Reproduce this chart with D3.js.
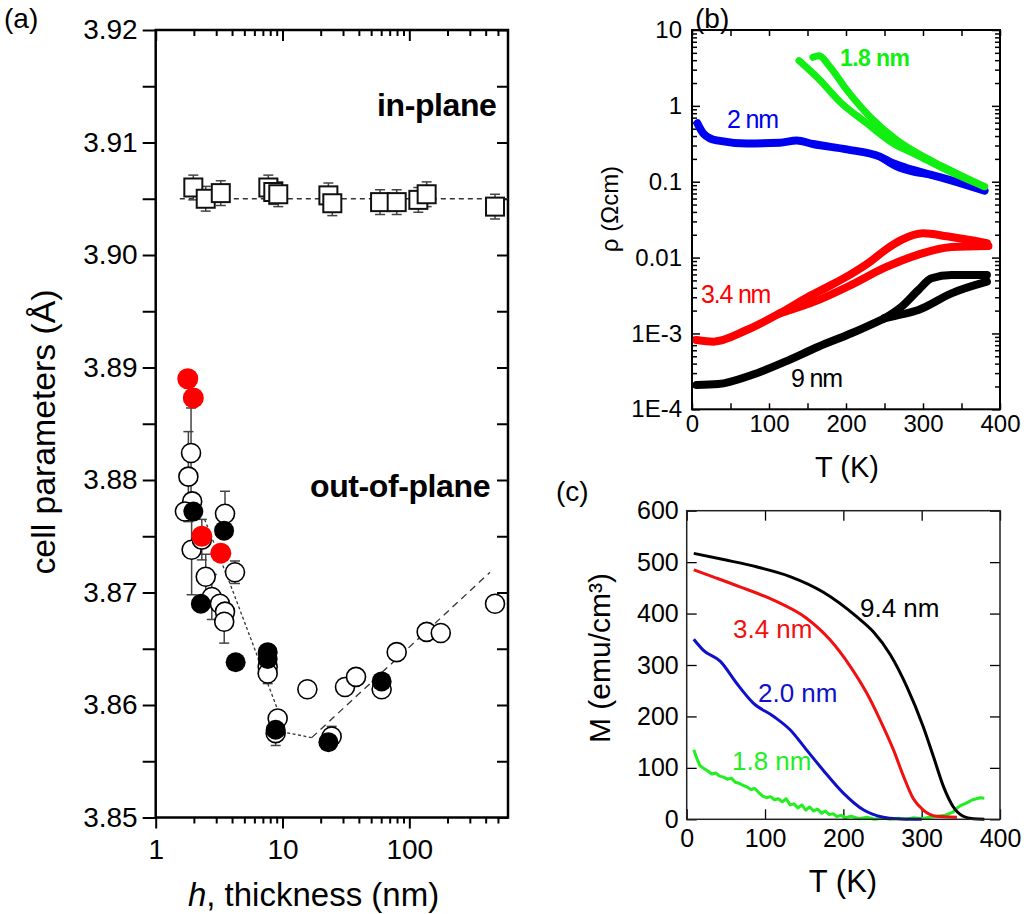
<!DOCTYPE html>
<html><head><meta charset="utf-8">
<script src="https://cdn.jsdelivr.net/npm/d3@7"></script>
<style>
body{margin:0;background:#fff}
svg{display:block}
text{font-family:"Liberation Sans",Arial,sans-serif}
</style>
</head><body>
<svg id="chart" width="1024" height="914"></svg>
<script>
// ---------------- Panel (a) data ----------------
const hMajorTicks = [1, 10, 100];
const hMinorTicks = [2,3,4,5,6,7,8,9,20,30,40,50,60,70,80,90,200,300,400,500];
const cMajorTicks = [3.85,3.86,3.87,3.88,3.89,3.90,3.91,3.92];
const cMinorTicks = [3.855,3.865,3.875,3.885,3.895,3.905,3.915];

const inPlaneH   = [1.98, 2.48, 3.26, 7.73, 8.46, 9.26, 23.0, 24.7, 58.8, 79.5, 117.8, 137, 474];
const inPlaneC   = [3.9060, 3.9050, 3.9055, 3.9060, 3.9056, 3.9054, 3.9053, 3.9046, 3.9047, 3.9047, 3.9049, 3.9054, 3.9043];
const inPlaneErr = [0.0011,0.0011,0.0011,0.0011,0.0011,0.0011,0.0011,0.0011,0.0011,0.0011,0.0011,0.0011,0.0011];
const inPlaneTrendH = [1.55, 600];
const inPlaneTrendC = [3.905, 3.905];

const openH   = [1.90, 1.81, 1.94, 1.70, 1.92, 2.31, 2.48, 2.77, 3.21, 3.52, 3.47, 3.52, 4.22, 7.64, 7.64, 9.16, 8.83, 15.7, 24.4, 31.1, 38.0, 60.5, 79.5, 137, 177, 474];
const openC   = [3.8824, 3.8803, 3.8781, 3.8772, 3.8738, 3.8747, 3.8714, 3.8696, 3.8690, 3.8683, 3.8674, 3.8770, 3.8718, 3.8634, 3.8628, 3.8588, 3.8575, 3.8614, 3.8572, 3.8616, 3.8625, 3.8614, 3.8647, 3.8665, 3.8664, 3.8690];
const openErr = [0.0040, 0.0040, 0, 0, 0.0040, 0.0018, 0.0020, 0.0020, 0, 0, 0.0019, 0.0020, 0.0010, 0, 0.0009, 0, 0.0011, 0, 0.0009, 0, 0, 0, 0, 0, 0, 0];
const blackH  = [1.98, 3.46, 2.27, 4.27, 7.64, 7.64, 8.83, 23.0, 60.5];
const blackC  = [3.8772, 3.8755, 3.8690, 3.8638, 3.8647, 3.8641, 3.8578, 3.8567, 3.8621];
const redH    = [1.79, 1.98, 2.31, 3.26];
const redC    = [3.8890, 3.8873, 3.8750, 3.8735];
const trendFineH   = [2.43, 3.85, 9.0, 10.1, 17.0];
const trendFineC   = [3.8765, 3.8708, 3.8598, 3.8576, 3.8571];
const trendCoarseH = [17.0, 433];
const trendCoarseC = [3.8571, 3.8718];

// ---------------- Panel (b) data ----------------
const rhoTicks  = [1e-4, 1e-3, 1e-2, 1e-1, 1, 10];
const rhoLabels = ["1E-4", "1E-3", "0.01", "0.1", "1", "10"];
const tTicksB   = [0, 50, 100, 150, 200, 250, 300, 350, 400];

const blue2T   = [7, 15, 32, 71, 114, 136, 157, 201, 244, 261, 287, 331, 380];
const blue2R   = [0.59, 0.43, 0.35, 0.32, 0.327, 0.35, 0.314, 0.267, 0.214, 0.175, 0.143, 0.108, 0.076];
const blue2bT  = [244, 265, 290, 310];
const blue2bR  = [0.214, 0.158, 0.132, 0.124];
const green18aT = [139, 166, 192, 227, 261, 292, 326, 380];
const green18aR = [3.94, 2.19, 1.135, 0.589, 0.321, 0.225, 0.150, 0.086];
const green18bT = [157, 165, 179, 201, 231, 266, 292, 326, 380];
const green18bR = [4.37, 4.57, 3.28, 1.62, 0.72, 0.355, 0.24, 0.158, 0.086];
const red34upT = [6, 28, 71, 114, 150, 180, 207, 230, 251, 272, 300, 331, 383];
const red34upR = [8.18e-4, 7.80e-4, 1.109e-3, 1.84e-3, 3.0e-3, 4.3e-3, 6.1e-3, 8.6e-3, 0.0126, 0.0171, 0.0209, 0.0191, 0.0155];
const red34loT = [114, 164, 207, 251, 294, 337, 385];
const red34loR = [1.84e-3, 2.75e-3, 4.37e-3, 7.41e-3, 0.01096, 0.0138, 0.0142];
const black9T  = [6, 34, 77.5, 121, 164, 207, 250];
const black9R  = [2.09e-4, 2.15e-4, 2.83e-4, 4.25e-4, 6.68e-4, 1.005e-3, 1.585e-3];
const black9upT = [250, 272, 294, 311, 337, 383];
const black9upR = [1.585e-3, 2.25e-3, 3.74e-3, 5.33e-3, 5.89e-3, 5.89e-3];
const black9loT = [250, 272, 294, 337, 383];
const black9loR = [1.585e-3, 1.78e-3, 2.04e-3, 3.38e-3, 4.81e-3];

// ---------------- Panel (c) data ----------------
const tTicksC = [0, 100, 200, 300, 400];
const mTicks  = [0, 100, 200, 300, 400, 500, 600];
const m94T = [9, 47, 89, 132, 174, 217, 238, 260, 281, 302, 315, 328, 340, 353, 366, 380];
const m94M = [517, 505, 491, 472, 442, 394, 365, 320, 258, 180, 122, 63, 25, 6, 1, 0];
const m34T = [9, 38, 68, 111, 153, 183, 209, 230, 247, 264, 277, 289, 302, 319, 345];
const m34M = [485, 469, 452, 426, 391, 349, 297, 245, 193, 135, 83, 41, 18, 6, 4];
const m20T = [9, 21, 43, 64, 85, 111, 132, 153, 174, 200, 226, 251, 268, 300];
const m20M = [350, 329, 307, 264, 226, 200, 174, 135, 96, 51, 18, 4, 1, 0];
const m18T = [9,13,17,22,27,32,37,42,47,52,57,62,67,72,77,82,87,92,97,102,107,112,117,122,127,132,137,142,147,152,157,162,167,172,177,182,187,192,197,202,210,220,230,240,250,260,270,280,290,300,310,320,330,340,345,350,355,360,365,370,375,380];
const m18M = [135,118,104,99,94,88,90,84,82,78,80,72,70,66,63,58,60,52,45,42,44,38,40,34,40,28,30,22,28,18,24,16,20,12,16,9,11,5,8,3,6,1,4,0,3,0,2,0,3,1,4,6,8,14,22,27,30,34,38,40,42,41];

// ---------------- drawing ----------------
const FONT = "'Liberation Sans', Arial, sans-serif";
const PFONT = "Lato, 'Open Sans', sans-serif";
const svg = d3.select("#chart");

function styleAxis(g, fs, sw) {
  g.attr("font-family", null).attr("font-size", null);
  g.select(".domain").remove();
  g.selectAll("line").attr("stroke", "#000").attr("stroke-width", sw);
  g.selectAll("text").attr("font-size", fs).attr("font-family", FONT).attr("fill", "#000");
  return g;
}
const z = (a, b) => d3.zip(a, b);

// ===== Panel (a) =====
const ax = d3.scaleLog().domain([1, 600]).range([155.7, 508]);
const ay = d3.scaleLinear().domain([3.85, 3.92]).range([817.5, 30]);
const gA = svg.append("g");
const [aL, aR] = ax.range(), [aB, aT] = ay.range();

styleAxis(gA.append("g").attr("transform", `translate(${aL},0)`)
  .call(d3.axisLeft(ay).tickValues(cMajorTicks).tickFormat(d3.format(".2f")).tickSize(13).tickSizeOuter(0).tickPadding(5)), 28, 2);
styleAxis(gA.append("g").attr("transform", `translate(${aL},0)`)
  .call(d3.axisLeft(ay).tickValues(cMinorTicks).tickFormat("").tickSize(13).tickSizeOuter(0)), 28, 2);
styleAxis(gA.append("g").attr("transform", `translate(${aR},0)`)
  .call(d3.axisLeft(ay).tickValues(cMajorTicks.concat(cMinorTicks)).tickFormat("").tickSize(11).tickSizeOuter(0)), 28, 2);
styleAxis(gA.append("g").attr("transform", `translate(0,${aB})`)
  .call(d3.axisBottom(ax).tickValues(hMajorTicks).tickFormat(d3.format("d")).tickSize(11).tickSizeOuter(0).tickPadding(11)), 28, 2);
styleAxis(gA.append("g").attr("transform", `translate(0,${aB})`)
  .call(d3.axisBottom(ax).tickValues(hMinorTicks).tickFormat("").tickSize(6).tickSizeOuter(0)), 28, 2);
styleAxis(gA.append("g").attr("transform", `translate(0,${aT})`)
  .call(d3.axisBottom(ax).tickValues(hMajorTicks).tickFormat("").tickSize(11).tickSizeOuter(0)), 28, 2);
styleAxis(gA.append("g").attr("transform", `translate(0,${aT})`)
  .call(d3.axisBottom(ax).tickValues(hMinorTicks).tickFormat("").tickSize(6).tickSizeOuter(0)), 28, 2);

gA.append("rect").attr("x", aL).attr("y", aT).attr("width", aR - aL).attr("height", aB - aT)
  .attr("fill", "none").attr("stroke", "#000").attr("stroke-width", 2.5);

const lineA = d3.line().x(d => ax(d[0])).y(d => ay(d[1]));
gA.append("path").attr("d", lineA(z(inPlaneTrendH, inPlaneTrendC)))
  .attr("fill", "none").attr("stroke", "#333").attr("stroke-width", 1.3).attr("stroke-dasharray", "5,4");
gA.append("path").attr("d", lineA(z(trendFineH, trendFineC)))
  .attr("fill", "none").attr("stroke", "#333").attr("stroke-width", 1.3).attr("stroke-dasharray", "3,2.5");
gA.append("path").attr("d", lineA(z(trendCoarseH, trendCoarseC)))
  .attr("fill", "none").attr("stroke", "#333").attr("stroke-width", 1.3).attr("stroke-dasharray", "7,5");

function errBars(g, H, C, E, cap) {
  const d = H.map((h, i) => ({h, c: C[i], e: E[i]})).filter(o => o.e > 0);
  const eg = g.append("g").attr("stroke", "#444").attr("stroke-width", 1.5);
  d.forEach(o => {
    const x = ax(o.h);
    eg.append("line").attr("x1", x).attr("x2", x).attr("y1", ay(o.c - o.e)).attr("y2", ay(o.c + o.e));
    eg.append("line").attr("x1", x - cap).attr("x2", x + cap).attr("y1", ay(o.c - o.e)).attr("y2", ay(o.c - o.e));
    eg.append("line").attr("x1", x - cap).attr("x2", x + cap).attr("y1", ay(o.c + o.e)).attr("y2", ay(o.c + o.e));
  });
}
errBars(gA, inPlaneH, inPlaneC, inPlaneErr, 5);
gA.append("g").selectAll("rect").data(z(inPlaneH, inPlaneC)).join("rect")
  .attr("x", d => ax(d[0]) - 9).attr("y", d => ay(d[1]) - 9).attr("width", 18).attr("height", 18)
  .attr("fill", "#fff").attr("stroke", "#111").attr("stroke-width", 2);

errBars(gA, openH, openC, openErr, 5);
gA.append("g").selectAll("circle").data(z(openH, openC)).join("circle")
  .attr("cx", d => ax(d[0])).attr("cy", d => ay(d[1])).attr("r", 9.5)
  .attr("fill", "#fff").attr("stroke", "#000").attr("stroke-width", 1.6);
gA.append("g").selectAll("circle").data(z(blackH, blackC)).join("circle")
  .attr("cx", d => ax(d[0])).attr("cy", d => ay(d[1])).attr("r", 10).attr("fill", "#000");
gA.append("g").selectAll("circle").data(z(redH, redC)).join("circle")
  .attr("cx", d => ax(d[0])).attr("cy", d => ay(d[1])).attr("r", 10.5).attr("fill", "#f00");

gA.append("text").attr("x", 377).attr("y", 116).attr("font-size", 32).attr("font-weight", "bold")
  .attr("letter-spacing", -0.4).text("in-plane");
gA.append("text").attr("x", 310).attr("y", 497).attr("font-size", 32).attr("font-weight", "bold")
  .attr("letter-spacing", -0.4).text("out-of-plane");
gA.append("text").attr("transform", "translate(55,432) rotate(-90)").attr("text-anchor", "middle")
  .attr("font-size", 33).attr("textLength", 285).attr("lengthAdjust", "spacingAndGlyphs").text("cell parameters (Å)");
const xl = gA.append("text").attr("x", 313.5).attr("y", 906).attr("text-anchor", "middle").attr("font-size", 33);
xl.append("tspan").attr("font-style", "italic").text("h");
xl.append("tspan").text(", thickness (nm)");
svg.append("text").attr("x", 4).attr("y", 28).attr("font-size", 28).attr("font-family", PFONT).text("(a)");

// ===== Panel (b) =====
const bx = d3.scaleLinear().domain([0, 400]).range([692, 1000]);
const by = d3.scaleLog().domain([1e-4, 10]).range([409.3, 30]);
const gB = svg.append("g");
const [bL, bR] = bx.range(), [bB, bT] = by.range();
const rhoMinor = [];
rhoTicks.slice(0, -1).forEach(t => { for (let k = 2; k <= 9; k++) rhoMinor.push(t * k); });

styleAxis(gB.append("g").attr("transform", `translate(${bL},0)`)
  .call(d3.axisLeft(by).tickValues(rhoTicks).tickFormat((d, i) => rhoLabels[i]).tickSizeInner(-8).tickSizeOuter(0).tickPadding(10)), 24, 1.5);
styleAxis(gB.append("g").attr("transform", `translate(${bL},0)`)
  .call(d3.axisLeft(by).tickValues(rhoMinor).tickFormat("").tickSizeInner(-5).tickSizeOuter(0)), 24, 1.5);
styleAxis(gB.append("g").attr("transform", `translate(${bR},0)`)
  .call(d3.axisLeft(by).tickValues(rhoTicks).tickFormat("").tickSize(8).tickSizeOuter(0)), 24, 1.5);
styleAxis(gB.append("g").attr("transform", `translate(${bR},0)`)
  .call(d3.axisLeft(by).tickValues(rhoMinor).tickFormat("").tickSize(5).tickSizeOuter(0)), 24, 1.5);
styleAxis(gB.append("g").attr("transform", `translate(0,${bB})`)
  .call(d3.axisBottom(bx).tickValues(tTicksB).tickFormat(d => d % 100 === 0 ? d : "").tickSizeInner(-6).tickSizeOuter(0).tickPadding(6)), 24, 1.5);
styleAxis(gB.append("g").attr("transform", `translate(0,${bT})`)
  .call(d3.axisBottom(bx).tickValues(tTicksB).tickFormat("").tickSize(6).tickSizeOuter(0)), 24, 1.5);
gB.append("rect").attr("x", bL).attr("y", bT).attr("width", bR - bL).attr("height", bB - bT)
  .attr("fill", "none").attr("stroke", "#000").attr("stroke-width", 2);

const lineB = d3.line().x(d => bx(d[0])).y(d => by(d[1])).curve(d3.curveMonotoneX);
function curveB(T, R, color, w) {
  gB.append("path").attr("d", lineB(z(T, R))).attr("fill", "none").attr("stroke", color)
    .attr("stroke-width", w).attr("stroke-linecap", "round").attr("stroke-linejoin", "round");
}
curveB(black9T, black9R, "#000", 8);
curveB(black9upT, black9upR, "#000", 8);
curveB(black9loT, black9loR, "#000", 8);
curveB(red34upT, red34upR, "#f00", 8);
curveB(red34loT, red34loR, "#f00", 8);
curveB(blue2T, blue2R, "#0000f0", 8);
curveB(blue2bT, blue2bR, "#0000f0", 7);
curveB(green18aT, green18aR, "#11ee11", 7);
curveB(green18bT, green18bR, "#11ee11", 7);

gB.append("text").attr("x", 840).attr("y", 66).attr("font-size", 23).attr("font-weight", "bold")
  .attr("letter-spacing", -0.6).attr("fill", "#11ee11").text("1.8 nm");
gB.append("text").attr("x", 727).attr("y", 128).attr("font-size", 25).attr("letter-spacing", -1.2)
  .attr("fill", "#0000f0").text("2 nm");
gB.append("text").attr("x", 701).attr("y", 303).attr("font-size", 25).attr("letter-spacing", -1.2)
  .attr("fill", "#f00").text("3.4 nm");
gB.append("text").attr("x", 791).attr("y", 387).attr("font-size", 25).attr("letter-spacing", -1.2)
  .attr("fill", "#000").text("9 nm");
gB.append("text").attr("transform", "translate(618,209) rotate(-90)").attr("text-anchor", "middle")
  .attr("font-size", 24).text("ρ (Ωcm)");
gB.append("text").attr("x", 847).attr("y", 477).attr("text-anchor", "middle").attr("font-size", 29).text("T (K)");
svg.append("text").attr("x", 695).attr("y", 28).attr("font-size", 28).attr("font-family", PFONT).text("(b)");

// ===== Panel (c) =====
const cxs = d3.scaleLinear().domain([0, 400]).range([686.7, 1000]);
const cys = d3.scaleLinear().domain([0, 600]).range([819.3, 510.7]);
const gC = svg.append("g");
const [cL, cR] = cxs.range(), [cB, cT] = cys.range();

styleAxis(gC.append("g").attr("transform", `translate(${cL},0)`)
  .call(d3.axisLeft(cys).tickValues(mTicks).tickFormat(d3.format("d")).tickSizeInner(-10).tickSizeOuter(0).tickPadding(8)), 25, 1.3);
styleAxis(gC.append("g").attr("transform", `translate(${cR},0)`)
  .call(d3.axisLeft(cys).tickValues(mTicks).tickFormat("").tickSize(10).tickSizeOuter(0)), 25, 1.3);
styleAxis(gC.append("g").attr("transform", `translate(0,${cB})`)
  .call(d3.axisBottom(cxs).tickValues(tTicksC).tickFormat(d3.format("d")).tickSizeInner(-10).tickSizeOuter(0).tickPadding(10)), 25, 1.3);
styleAxis(gC.append("g").attr("transform", `translate(0,${cT})`)
  .call(d3.axisBottom(cxs).tickValues(tTicksC).tickFormat("").tickSize(10).tickSizeOuter(0)), 25, 1.3);

const lineC = d3.line().x(d => cxs(d[0])).y(d => cys(d[1]));
function curveC(T, M, color, smooth) {
  const l = smooth ? lineC.curve(d3.curveMonotoneX) : lineC.curve(d3.curveLinear);
  gC.append("path").attr("d", l(z(T, M))).attr("fill", "none").attr("stroke", color)
    .attr("stroke-width", 3).attr("stroke-linejoin", "round");
}
curveC(m18T, m18M, "#22ee22", false);
curveC(m20T, m20M, "#1010c8", true);
curveC(m34T, m34M, "#f01010", true);
curveC(m94T, m94M, "#000", true);

gC.append("rect").attr("x", cL).attr("y", cT).attr("width", cR - cL).attr("height", cB - cT)
  .attr("fill", "none").attr("stroke", "#222").attr("stroke-width", 1.5);

gC.append("text").attr("x", 860).attr("y", 617).attr("font-size", 26).attr("fill", "#000").text("9.4 nm");
gC.append("text").attr("x", 733).attr("y", 638).attr("font-size", 26).attr("fill", "#f01010").text("3.4 nm");
gC.append("text").attr("x", 758).attr("y", 702).attr("font-size", 26).attr("fill", "#1010c8").text("2.0 nm");
gC.append("text").attr("x", 732).attr("y", 770).attr("font-size", 26).attr("fill", "#22ee22").text("1.8 nm");
gC.append("text").attr("transform", "translate(610,658) rotate(-90)").attr("text-anchor", "middle")
  .attr("font-size", 30).text("M (emu/cm³)");
gC.append("text").attr("x", 843).attr("y", 892).attr("text-anchor", "middle").attr("font-size", 31).text("T (K)");
svg.append("text").attr("x", 556).attr("y", 501).attr("font-size", 28).attr("font-family", PFONT).text("(c)");
</script>
</body></html>
